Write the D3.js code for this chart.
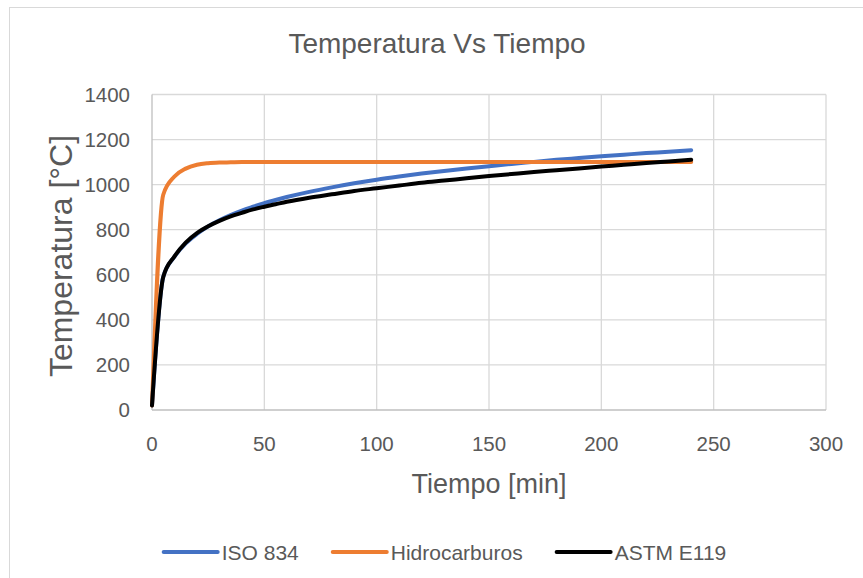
<!DOCTYPE html>
<meta charset="utf-8">
<script src="https://d3js.org/d3.v7.min.js"></script>
<style>
  body { margin: 0; background: #fff; }
  text { font-family: "Liberation Sans", Arial, sans-serif; fill: #595959; }
</style>
<body>
<div id="chart"></div>
<script>
// minutes
var tiempo = [0, 5, 10, 15, 20, 25, 30, 35, 40, 45, 50, 55, 60,
  70, 80, 90, 100, 110, 120, 130, 140, 150, 160, 170, 180, 190, 200, 210, 220, 230, 240];

var iso834 = [20, 590, 680, 739, 781, 815, 842, 865, 885, 902, 918, 932, 945,
  968, 988, 1006, 1022, 1036, 1049, 1061, 1072, 1082, 1092, 1101, 1110, 1118, 1126, 1133, 1140, 1146, 1153];

var hidrocarburos = [20, 955, 1036, 1071, 1088, 1095, 1098, 1099, 1100, 1100, 1100, 1100, 1100,
  1100, 1100, 1100, 1100, 1100, 1100, 1100, 1100, 1100, 1100, 1100, 1100, 1100, 1100, 1100, 1100, 1100, 1100];

var astmE119 = [20, 590, 682, 743, 785, 815, 839, 859, 875, 890, 902, 913, 924,
  942, 957, 972, 984, 996, 1008, 1018, 1028, 1038, 1047, 1056, 1064, 1072, 1080, 1088, 1096, 1103, 1110];

var xTicks = [0, 50, 100, 150, 200, 250, 300];
var yTicks = [0, 200, 400, 600, 800, 1000, 1200, 1400];

var seriesNames = ["ISO 834", "Hidrocarburos", "ASTM E119"];
var seriesColors = ["#4472C4", "#ED7D31", "#000000"];

var W = 863, H = 578;

var svg = d3.select("#chart").append("svg")
  .attr("width", W)
  .attr("height", H);

// outer chart border
svg.append("rect")
  .attr("x", 9.5).attr("y", 7.5)
  .attr("width", W + 20).attr("height", H + 20)
  .attr("fill", "#fff")
  .attr("stroke", "#d9d9d9");

var x = d3.scaleLinear().domain([0, 300]).range([152, 826]);
var y = d3.scaleLinear().domain([0, 1400]).range([410, 94.5]);

// grid
svg.append("g").selectAll("line")
  .data(yTicks.slice(1))
  .enter().append("line")
  .attr("x1", x(0)).attr("x2", x(300))
  .attr("y1", d => y(d)).attr("y2", d => y(d))
  .attr("stroke", "#d9d9d9").attr("stroke-width", 1.3);

svg.append("g").selectAll("line")
  .data(xTicks.slice(1))
  .enter().append("line")
  .attr("x1", d => x(d)).attr("x2", d => x(d))
  .attr("y1", y(0)).attr("y2", y(1400))
  .attr("stroke", "#d9d9d9").attr("stroke-width", 1.3);

// axes lines
svg.append("line")
  .attr("x1", x(0)).attr("x2", x(300))
  .attr("y1", y(0)).attr("y2", y(0))
  .attr("stroke", "#bfbfbf").attr("stroke-width", 1.3);
svg.append("line")
  .attr("x1", x(0)).attr("x2", x(0))
  .attr("y1", y(0)).attr("y2", y(1400))
  .attr("stroke", "#bfbfbf").attr("stroke-width", 1.3);

// tick labels
svg.append("g").selectAll("text")
  .data(yTicks)
  .enter().append("text")
  .attr("x", 130)
  .attr("y", d => y(d) + 7)
  .attr("text-anchor", "end")
  .style("font-size", "20.5px")
  .text(d => d);

svg.append("g").selectAll("text")
  .data(xTicks)
  .enter().append("text")
  .attr("x", d => x(d))
  .attr("y", 451)
  .attr("text-anchor", "middle")
  .style("font-size", "20.5px")
  .text(d => d);

// titles
svg.append("text")
  .attr("x", 437).attr("y", 53)
  .attr("text-anchor", "middle")
  .style("font-size", "28px")
  .text("Temperatura Vs Tiempo");

svg.append("text")
  .attr("x", x(150)).attr("y", 493)
  .attr("text-anchor", "middle")
  .style("font-size", "27px")
  .text("Tiempo [min]");

svg.append("text")
  .attr("transform", "translate(72,256) rotate(-90)")
  .attr("text-anchor", "middle")
  .style("font-size", "32px")
  .text("Temperatura [°C]");

// lines
var series = [iso834, hidrocarburos, astmE119].map(function (vals, i) {
  return {
    name: seriesNames[i],
    color: seriesColors[i],
    values: tiempo.map(function (t, j) { return { t: t, v: vals[j] }; })
  };
});

var line = d3.line()
  .x(d => x(d.t))
  .y(d => y(d.v))
  .curve(d3.curveMonotoneX);

svg.append("g").selectAll("path")
  .data(series)
  .enter().append("path")
  .attr("d", d => line(d.values))
  .attr("fill", "none")
  .attr("stroke", d => d.color)
  .attr("stroke-width", 4)
  .attr("stroke-linejoin", "round")
  .attr("stroke-linecap", "round");

// legend
var legend = svg.append("g");
var items = legend.selectAll("g")
  .data(series)
  .enter().append("g");

items.append("line")
  .attr("x1", 0).attr("x2", 54)
  .attr("y1", 0).attr("y2", 0)
  .attr("stroke", d => d.color)
  .attr("stroke-width", 4)
  .attr("stroke-linecap", "round");

items.append("text")
  .attr("x", 58)
  .attr("y", 7.5)
  .style("font-size", "21px")
  .text(d => d.name);

var offs = [], total = 0;
items.each(function () {
  var w = 58 + this.querySelector("text").getComputedTextLength();
  offs.push(total);
  total += w + 34;
});
total -= 34;
var startX = 445 - total / 2;
items.attr("transform", (d, i) => "translate(" + (startX + offs[i]) + ",552)");
</script>
</body>
